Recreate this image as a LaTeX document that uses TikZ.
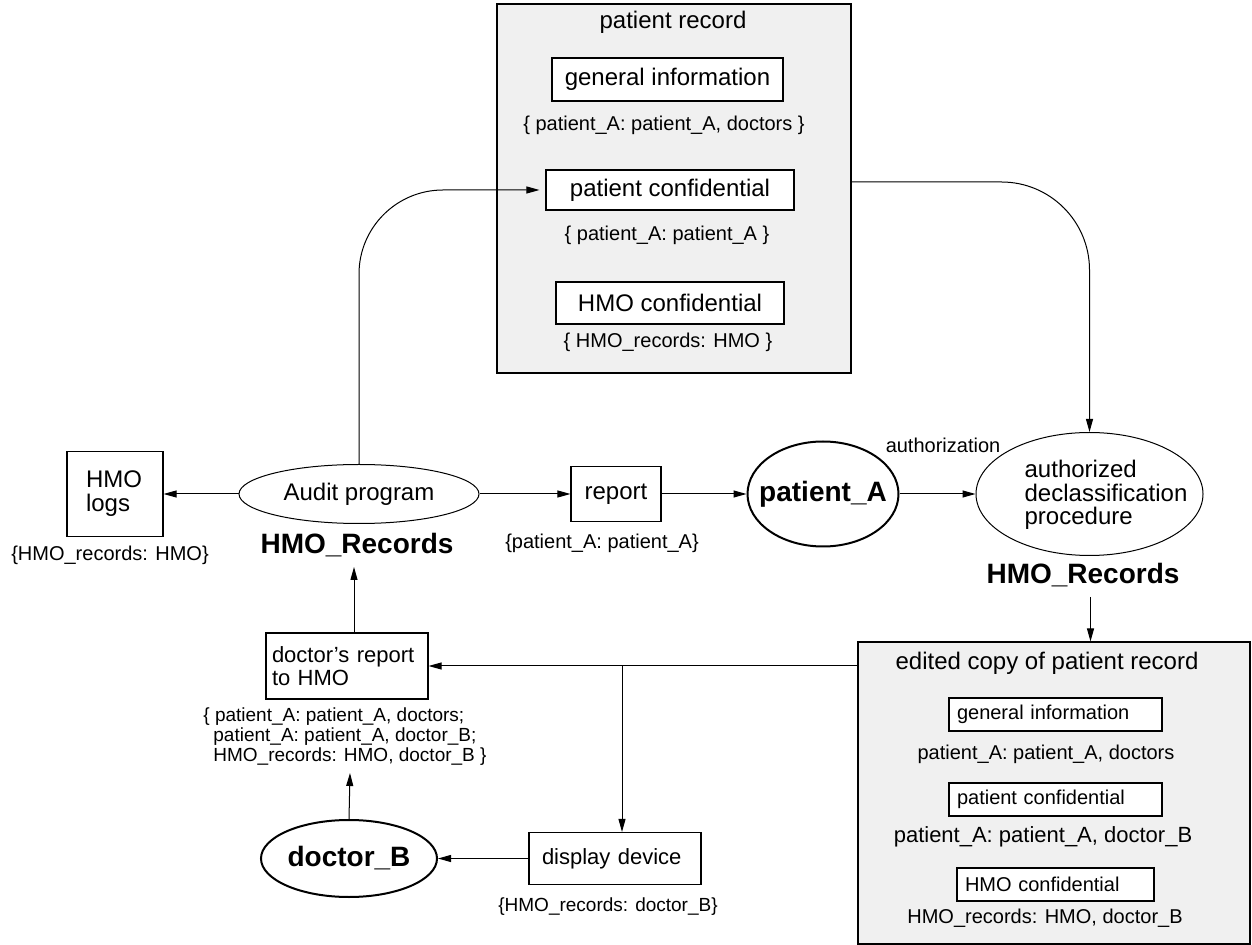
\documentclass[tikz,border=0pt]{standalone}
\usepackage{fontspec}
\setmainfont{Liberation Sans}
\usetikzlibrary{shapes.geometric,arrows.meta}
\definecolor{panelgray}{HTML}{F0F0F0}
\newcommand{\setfs}[1]{\fontsize{#1}{#1}\selectfont}

\begin{document}
\begin{tikzpicture}[x=0.5pt,y=-0.5pt,
  arr/.style={-{Triangle[length=6.5pt,width=3.5pt]}, line width=0.5pt},
  box/.style={draw, line width=0.55pt, fill=white, rectangle, inner sep=0pt},
  panel/.style={draw, line width=0.55pt, fill=panelgray, rectangle, inner sep=0pt},
  txt/.style={inner sep=0pt},
  proc/.style={ellipse, draw, line width=0.5pt, inner sep=0pt},
  agent/.style={ellipse, draw, line width=1pt, inner sep=0pt, font=\bfseries\setfs{14}},
  owner/.style={inner sep=0pt, font=\bfseries\setfs{14}}
]
\useasboundingbox (0,0) rectangle (1252,945);

% ---- patient record ----
\node[panel, minimum width=177pt, minimum height=184.5pt] (prec) at (674,188.5) {};
\node[txt, font=\setfs{12}] (prectitle) at (673,22) {patient record};
\node[box, minimum width=115.5pt, minimum height=21.5pt, font=\setfs{12}] (gi1) at (667.5,79.5) {general information};
\node[txt, font=\setfs{10}] (gi1lbl) at (664,125) {\{ patient\_A: patient\_A, doctors \}};
\node[box, minimum width=124pt, minimum height=20pt, font=\setfs{12}] (pc1) at (670,190) {patient confidential};
\node[txt, font=\setfs{10}] (pc1lbl) at (667,235) {\{ patient\_A: patient\_A \}};
\node[box, minimum width=114pt, minimum height=21pt, font=\setfs{12}] (hc1) at (670,303) {HMO confidential};
\node[txt, font=\setfs{10}] (hc1lbl) at (668,342) {\{ HMO\_records: HMO \}};

% ---- middle row ----
\node[proc, minimum width=120pt, minimum height=29.5pt, font=\setfs{12}] (audit) at (359,494) {\makebox[0pt]{Audit program}};
\node[owner] (auditlbl) at (357,545) {HMO\_Records};
\node[box, minimum height=42.5pt, text width=29pt, inner xsep=9.5pt, align=left, font=\fontsize{12}{12}\selectfont] (logs) at (115,494) {HMO\\logs};
\node[txt, font=\setfs{10}] (logslbl) at (110,555) {\{HMO\_records: HMO\}};
\node[box, minimum width=45pt, minimum height=27.5pt, font=\setfs{12}] (report) at (616,494) {report};
\node[txt, font=\setfs{10}] (reportlbl) at (602,543) {\{patient\_A: patient\_A\}};
\node[agent, minimum width=75.5pt, minimum height=52.5pt] (pA) at (823,494) {\makebox[0pt]{patient\_A}};
\node[proc, minimum width=113.5pt, minimum height=61.5pt] (auth) at (1089.5,494) {};
\node[txt, align=left, font=\fontsize{12}{11.75}\selectfont] (authtext) at (1106,495) {authorized\\declassification\\procedure};
\node[txt, font=\setfs{10}] (authz) at (943,445) {authorization};
\node[owner] (authlbl) at (1083,575) {HMO\_Records};

% ---- edited copy ----
\node[panel, minimum width=196pt, minimum height=151pt] (edited) at (1054,793) {};
\node[txt, font=\setfs{12}] (edtitle) at (1047,663) {edited copy of patient record};
\node[box, minimum height=16.5pt, text width=98.5pt, inner xsep=4pt, align=left, font=\setfs{10}] (gi2) at (1055.5,714.5) {general information};
\node[txt, font=\setfs{10}] (gi2lbl) at (1046,754) {patient\_A: patient\_A, doctors};
\node[box, minimum height=16.5pt, text width=98.5pt, inner xsep=4pt, align=left, font=\setfs{10}] (pc2) at (1055.5,799.5) {patient confidential};
\node[txt, font=\setfs{11}] (pc2lbl) at (1043,837) {patient\_A: patient\_A, doctor\_B};
\node[box, minimum height=16.5pt, text width=90.5pt, inner xsep=4pt, align=left, font=\setfs{10}] (hc2) at (1055.5,884.5) {HMO confidential};
\node[txt, font=\setfs{10}] (hc2lbl) at (1045,918) {HMO\_records: HMO, doctor\_B};

% ---- doctor side ----
\node[box, minimum height=33pt, text width=75pt, inner xsep=3pt, align=left, font=\fontsize{11}{11.5}\selectfont] (docrep) at (347,666) {doctor’s report\\to HMO};
\node[txt, anchor=north west, align=left, font=\fontsize{9.5}{10}\selectfont] (doclbl) at (203,707) {\{ patient\_A: patient\_A, doctors;\\\hspace*{5pt}patient\_A: patient\_A, doctor\_B;\\\hspace*{5pt}HMO\_records: HMO, doctor\_B \}};
\node[agent, minimum width=88pt, minimum height=38.5pt] (dB) at (349,858.5) {\makebox[0pt]{doctor\_B}};
\node[box, minimum height=26pt, text width=73pt, inner xsep=6.5pt, align=left, font=\setfs{11}] (disp) at (615,858.5) {display device};
\node[txt, font=\setfs{9.5}] (displbl) at (608,907) {\{HMO\_records: doctor\_B\}};

% ---- connectors ----
\coordinate (precout) at ([yshift=3.25pt]prec.east);
\coordinate (authdown) at (1090.5,597);
\coordinate (audup) at (354,567);
\coordinate (dBup) at (350,773);
\coordinate (junc) at (622,666);

\draw[arr, rounded corners=42pt, shorten >=3pt] (audit.north) |- (pc1.west);
\draw[arr, rounded corners=44pt] (precout) -| (auth.north);
\draw[arr] (audit.west) -- (logs.east);
\draw[arr] (audit.east) -- (report.west);
\draw[arr] (report.east) -- (pA.west);
\draw[arr] (pA.east) -- (auth.west);
\draw[arr] (authdown) -- (authdown |- edited.north);
\draw[arr] (audup |- docrep.north) -- (audup);
\draw[arr] (edited.west |- docrep.east) -- (docrep.east);
\draw[arr] (junc) -- (junc |- disp.north);
\draw[arr] (dB.north) -- (dBup);
\draw[arr] (disp.west) -- (dB.east);
\end{tikzpicture}
\end{document}
